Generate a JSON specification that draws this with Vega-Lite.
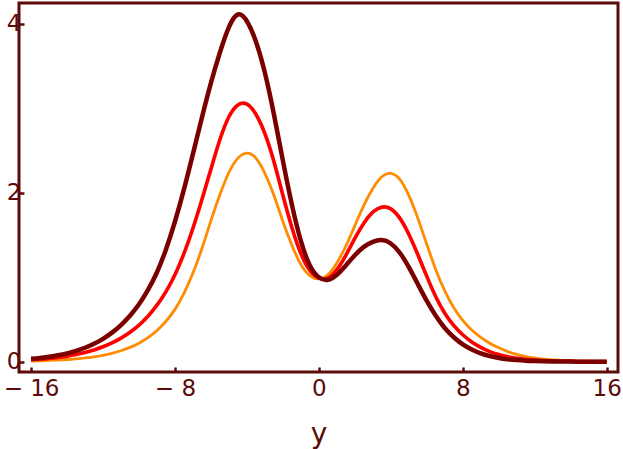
{
 "$schema": "https://vega.github.io/schema/vega-lite/v6.json",
 "width": 599, "height": 369,
 "autosize": {"type": "none"},
 "padding": {"left": 19, "top": 3, "right": 5, "bottom": 77},
 "background": "white",
 "config": {"view": {"stroke": "#5c0b0b", "strokeWidth": 3}, "font": "DejaVu Sans"},
 "data": {"values": [
  {"s":"a","x":-16,"v":0.009},{"s":"a","x":-15.5,"v":0.012},{"s":"a","x":-15,"v":0.016},{"s":"a","x":-14.5,"v":0.021},{"s":"a","x":-14,"v":0.027},{"s":"a","x":-13.5,"v":0.035},{"s":"a","x":-13,"v":0.045},{"s":"a","x":-12.5,"v":0.059},{"s":"a","x":-12,"v":0.077},{"s":"a","x":-11.5,"v":0.10},{"s":"a","x":-11,"v":0.13},{"s":"a","x":-10.5,"v":0.17},{"s":"a","x":-10,"v":0.22},{"s":"a","x":-9.5,"v":0.285},{"s":"a","x":-9,"v":0.37},{"s":"a","x":-8.5,"v":0.48},{"s":"a","x":-8,"v":0.62},{"s":"a","x":-7.5,"v":0.81},{"s":"a","x":-7,"v":1.05},{"s":"a","x":-6.5,"v":1.34},{"s":"a","x":-6,"v":1.67},{"s":"a","x":-5.5,"v":1.98},{"s":"a","x":-5,"v":2.24},{"s":"a","x":-4.5,"v":2.41},{"s":"a","x":-4,"v":2.47},{"s":"a","x":-3.5,"v":2.41},{"s":"a","x":-3,"v":2.23},{"s":"a","x":-2.5,"v":1.97},{"s":"a","x":-2,"v":1.66},{"s":"a","x":-1.5,"v":1.38},{"s":"a","x":-1,"v":1.15},{"s":"a","x":-0.5,"v":1.02},{"s":"a","x":0,"v":0.98},{"s":"a","x":0.5,"v":1.03},{"s":"a","x":1,"v":1.17},{"s":"a","x":1.5,"v":1.37},{"s":"a","x":2,"v":1.61},{"s":"a","x":2.5,"v":1.85},{"s":"a","x":3,"v":2.05},{"s":"a","x":3.5,"v":2.19},{"s":"a","x":4,"v":2.23},{"s":"a","x":4.5,"v":2.16},{"s":"a","x":5,"v":1.97},{"s":"a","x":5.5,"v":1.70},{"s":"a","x":6,"v":1.39},{"s":"a","x":6.5,"v":1.09},{"s":"a","x":7,"v":0.84},{"s":"a","x":7.5,"v":0.64},{"s":"a","x":8,"v":0.49},{"s":"a","x":8.5,"v":0.375},{"s":"a","x":9,"v":0.29},{"s":"a","x":9.5,"v":0.22},{"s":"a","x":10,"v":0.165},{"s":"a","x":10.5,"v":0.12},{"s":"a","x":11,"v":0.087},{"s":"a","x":11.5,"v":0.062},{"s":"a","x":12,"v":0.044},{"s":"a","x":12.5,"v":0.031},{"s":"a","x":13,"v":0.022},{"s":"a","x":13.5,"v":0.015},{"s":"a","x":14,"v":0.011},{"s":"a","x":14.5,"v":0.008},{"s":"a","x":15,"v":0.006},{"s":"a","x":15.5,"v":0.004},{"s":"a","x":16,"v":0.003},
  {"s":"b","x":-16,"v":0.024},{"s":"b","x":-15.5,"v":0.031},{"s":"b","x":-15,"v":0.04},{"s":"b","x":-14.5,"v":0.052},{"s":"b","x":-14,"v":0.067},{"s":"b","x":-13.5,"v":0.086},{"s":"b","x":-13,"v":0.11},{"s":"b","x":-12.5,"v":0.14},{"s":"b","x":-12,"v":0.177},{"s":"b","x":-11.5,"v":0.223},{"s":"b","x":-11,"v":0.28},{"s":"b","x":-10.5,"v":0.35},{"s":"b","x":-10,"v":0.435},{"s":"b","x":-9.5,"v":0.54},{"s":"b","x":-9,"v":0.67},{"s":"b","x":-8.5,"v":0.83},{"s":"b","x":-8,"v":1.03},{"s":"b","x":-7.5,"v":1.28},{"s":"b","x":-7,"v":1.58},{"s":"b","x":-6.5,"v":1.92},{"s":"b","x":-6,"v":2.28},{"s":"b","x":-5.5,"v":2.63},{"s":"b","x":-5,"v":2.90},{"s":"b","x":-4.5,"v":3.04},{"s":"b","x":-4,"v":3.05},{"s":"b","x":-3.5,"v":2.93},{"s":"b","x":-3,"v":2.70},{"s":"b","x":-2.5,"v":2.37},{"s":"b","x":-2,"v":1.97},{"s":"b","x":-1.5,"v":1.59},{"s":"b","x":-1,"v":1.28},{"s":"b","x":-0.5,"v":1.08},{"s":"b","x":0,"v":0.99},{"s":"b","x":0.5,"v":0.99},{"s":"b","x":1,"v":1.09},{"s":"b","x":1.5,"v":1.26},{"s":"b","x":2,"v":1.46},{"s":"b","x":2.5,"v":1.64},{"s":"b","x":3,"v":1.77},{"s":"b","x":3.5,"v":1.83},{"s":"b","x":4,"v":1.81},{"s":"b","x":4.5,"v":1.70},{"s":"b","x":5,"v":1.51},{"s":"b","x":5.5,"v":1.27},{"s":"b","x":6,"v":1.01},{"s":"b","x":6.5,"v":0.77},{"s":"b","x":7,"v":0.575},{"s":"b","x":7.5,"v":0.43},{"s":"b","x":8,"v":0.32},{"s":"b","x":8.5,"v":0.235},{"s":"b","x":9,"v":0.17},{"s":"b","x":9.5,"v":0.12},{"s":"b","x":10,"v":0.085},{"s":"b","x":10.5,"v":0.059},{"s":"b","x":11,"v":0.041},{"s":"b","x":11.5,"v":0.028},{"s":"b","x":12,"v":0.019},{"s":"b","x":12.5,"v":0.013},{"s":"b","x":13,"v":0.009},{"s":"b","x":13.5,"v":0.006},{"s":"b","x":14,"v":0.004},{"s":"b","x":14.5,"v":0.003},{"s":"b","x":15,"v":0.002},{"s":"b","x":15.5,"v":0.0015},{"s":"b","x":16,"v":0.001},
  {"s":"c","x":-16,"v":0.036},{"s":"c","x":-15.5,"v":0.046},{"s":"c","x":-15,"v":0.06},{"s":"c","x":-14.5,"v":0.077},{"s":"c","x":-14,"v":0.10},{"s":"c","x":-13.5,"v":0.129},{"s":"c","x":-13,"v":0.166},{"s":"c","x":-12.5,"v":0.213},{"s":"c","x":-12,"v":0.272},{"s":"c","x":-11.5,"v":0.345},{"s":"c","x":-11,"v":0.435},{"s":"c","x":-10.5,"v":0.545},{"s":"c","x":-10,"v":0.68},{"s":"c","x":-9.5,"v":0.85},{"s":"c","x":-9,"v":1.06},{"s":"c","x":-8.5,"v":1.33},{"s":"c","x":-8,"v":1.66},{"s":"c","x":-7.5,"v":2.04},{"s":"c","x":-7,"v":2.46},{"s":"c","x":-6.5,"v":2.89},{"s":"c","x":-6,"v":3.30},{"s":"c","x":-5.5,"v":3.66},{"s":"c","x":-5,"v":3.96},{"s":"c","x":-4.5,"v":4.11},{"s":"c","x":-4,"v":4.03},{"s":"c","x":-3.5,"v":3.79},{"s":"c","x":-3,"v":3.42},{"s":"c","x":-2.5,"v":2.93},{"s":"c","x":-2,"v":2.38},{"s":"c","x":-1.5,"v":1.86},{"s":"c","x":-1,"v":1.43},{"s":"c","x":-0.5,"v":1.14},{"s":"c","x":0,"v":1.00},{"s":"c","x":0.5,"v":0.97},{"s":"c","x":1,"v":1.03},{"s":"c","x":1.5,"v":1.14},{"s":"c","x":2,"v":1.26},{"s":"c","x":2.5,"v":1.36},{"s":"c","x":3,"v":1.42},{"s":"c","x":3.5,"v":1.44},{"s":"c","x":4,"v":1.40},{"s":"c","x":4.5,"v":1.29},{"s":"c","x":5,"v":1.12},{"s":"c","x":5.5,"v":0.92},{"s":"c","x":6,"v":0.72},{"s":"c","x":6.5,"v":0.545},{"s":"c","x":7,"v":0.40},{"s":"c","x":7.5,"v":0.29},{"s":"c","x":8,"v":0.205},{"s":"c","x":8.5,"v":0.145},{"s":"c","x":9,"v":0.10},{"s":"c","x":9.5,"v":0.068},{"s":"c","x":10,"v":0.045},{"s":"c","x":10.5,"v":0.03},{"s":"c","x":11,"v":0.02},{"s":"c","x":11.5,"v":0.013},{"s":"c","x":12,"v":0.009},{"s":"c","x":12.5,"v":0.006},{"s":"c","x":13,"v":0.004},{"s":"c","x":13.5,"v":0.003},{"s":"c","x":14,"v":0.002},{"s":"c","x":14.5,"v":0.0015},{"s":"c","x":15,"v":0.001},{"s":"c","x":15.5,"v":0.001},{"s":"c","x":16,"v":0.001}
 ]},
 "mark": {"type": "line", "interpolate": "natural"},
 "encoding": {
  "x": {"field": "x", "type": "quantitative",
   "scale": {"domain": [-16.67, 16.63], "nice": false, "zero": false},
   "axis": {"values": [-16, -8, 0, 8, 16], "labelExpr": "datum.value < 0 ? '\u2212 ' + abs(datum.value) : '' + datum.value",
    "grid": false, "domain": false, "tickSize": -5, "tickWidth": 2.5, "tickColor": "#5c0b0b",
    "labelFontSize": 23, "labelColor": "#5c0b0b", "labelPadding": 10,
    "title": "y", "titleFontSize": 28, "titleFontWeight": "normal", "titleColor": "#5c0b0b", "titlePadding": 20}},
  "y": {"field": "v", "type": "quantitative",
   "scale": {"domain": [-0.121, 4.246], "nice": false, "zero": false},
   "axis": {"values": [0, 2, 4], "grid": false, "domain": false, "tickSize": -5, "tickWidth": 2.5, "tickColor": "#5c0b0b",
    "labelFontSize": 23, "labelColor": "#5c0b0b", "labelPadding": 3, "title": null}},
  "color": {"field": "s", "type": "nominal", "scale": {"domain": ["a", "b", "c"], "range": ["#ff8c00", "#ff0000", "#7a0000"]}, "legend": null},
  "strokeWidth": {"field": "s", "type": "nominal", "scale": {"domain": ["a", "b", "c"], "range": [2.8, 4.5, 6]}, "legend": null}
 }
}
